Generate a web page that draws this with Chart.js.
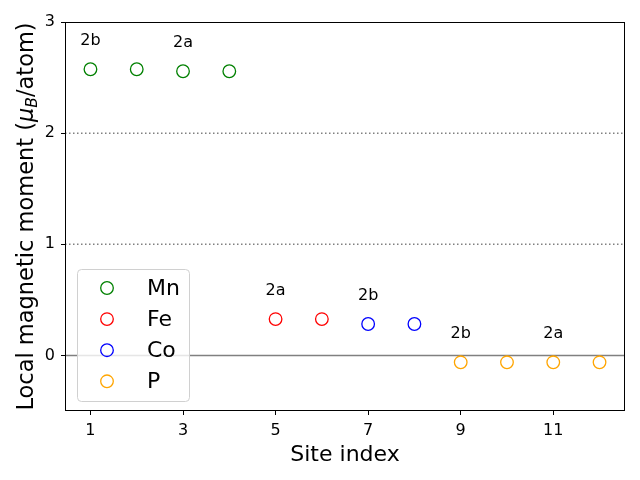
<!DOCTYPE html>
<html lang="en">
<head>
  <meta charset="UTF-8">
  <title>Local magnetic moment per site</title>
  <script src="https://cdn.jsdelivr.net/npm/chart.js"></script>
  <style>
    body { margin: 0; background: #fff; }
    .chart-container { width: 640px; height: 480px; }
  </style>
</head>
<body>

<div class="chart-container">
  <canvas id="momentChart" width="640" height="480"></canvas>
</div>

<script>
  // Data
  const mnSites = [1, 2, 3, 4];
  const mnMoments = [2.575, 2.575, 2.557, 2.557];
  const feSites = [5, 6];
  const feMoments = [0.327, 0.327];
  const coSites = [7, 8];
  const coMoments = [0.283, 0.283];
  const pSites = [9, 10, 11, 12];
  const pMoments = [-0.062, -0.062, -0.062, -0.062];

  const xTicks = [1, 3, 5, 7, 9, 11];
  const yTicks = [0, 1, 2, 3];

  // Wyckoff labels
  const labelSites = [1, 3, 5, 7, 9, 11];
  const labelY = [2.83, 2.81, 0.58, 0.54, 0.19, 0.19];
  const labelText = ['2b', '2a', '2a', '2b', '2b', '2a'];

  const dottedLevels = [1, 2];
  const solidLevels = [0];

  const FONT = "'DejaVu Sans', sans-serif";

  function toPoints(xs, ys) {
    return xs.map((x, i) => ({ x: x, y: ys[i] }));
  }

  function series(label, xs, ys, color) {
    return {
      label: label,
      data: toPoints(xs, ys),
      borderColor: color,
      backgroundColor: 'rgba(0,0,0,0)',
      pointStyle: 'circle',
      pointRadius: 6.3,
      pointHoverRadius: 6.3,
      borderWidth: 1.3,
      pointBorderWidth: 1.3
    };
  }

  const datasets = [
    series('Mn', mnSites, mnMoments, '#008000'),
    series('Fe', feSites, feMoments, '#ff0000'),
    series('Co', coSites, coMoments, '#0000ff'),
    series('P', pSites, pMoments, '#ffa500')
  ];

  // reference lines under the markers
  const refLines = {
    id: 'refLines',
    beforeDatasetsDraw(chart) {
      const { ctx, chartArea, scales } = chart;
      ctx.save();
      ctx.strokeStyle = '#808080';
      ctx.lineWidth = 1.5;
      ctx.setLineDash([1.5, 2.5]);
      dottedLevels.forEach(v => {
        const y = scales.y.getPixelForValue(v);
        ctx.beginPath();
        ctx.moveTo(chartArea.left, y);
        ctx.lineTo(chartArea.right, y);
        ctx.stroke();
      });
      ctx.setLineDash([]);
      ctx.lineWidth = 1.6;
      solidLevels.forEach(v => {
        const y = scales.y.getPixelForValue(v);
        ctx.beginPath();
        ctx.moveTo(chartArea.left, y);
        ctx.lineTo(chartArea.right, y);
        ctx.stroke();
      });
      ctx.restore();
    }
  };

  // site labels, frame, legend and y title
  const decorations = {
    id: 'decorations',
    afterDatasetsDraw(chart) {
      const { ctx, scales } = chart;
      ctx.save();
      ctx.fillStyle = '#000';
      ctx.font = '16px ' + FONT;
      ctx.textAlign = 'center';
      ctx.textBaseline = 'middle';
      labelSites.forEach((s, i) => {
        ctx.fillText(labelText[i], scales.x.getPixelForValue(s), scales.y.getPixelForValue(labelY[i]));
      });
      ctx.restore();
    },
    afterDraw(chart) {
      const { ctx, chartArea } = chart;
      ctx.save();
      // frame
      ctx.strokeStyle = '#000';
      ctx.lineWidth = 1;
      ctx.strokeRect(Math.round(chartArea.left) + 0.5, Math.round(chartArea.top) + 0.5,
        Math.round(chartArea.right - chartArea.left) - 1, Math.round(chartArea.bottom - chartArea.top) - 1);

      // legend box inside the axes
      const bx = 77, by = 269, bw = 112, bh = 132, r = 4;
      ctx.beginPath();
      ctx.roundRect(bx + 0.5, by + 0.5, bw, bh, r);
      ctx.fillStyle = 'rgba(255,255,255,0.8)';
      ctx.fill();
      ctx.strokeStyle = '#d0d0d0';
      ctx.lineWidth = 1;
      ctx.stroke();
      ctx.font = '22px ' + FONT;
      ctx.textAlign = 'left';
      ctx.textBaseline = 'middle';
      datasets.forEach((d, i) => {
        const cy = 288 + i * 31.1;
        ctx.beginPath();
        ctx.arc(107, cy, 6.3, 0, Math.PI * 2);
        ctx.strokeStyle = d.borderColor;
        ctx.lineWidth = 1.3;
        ctx.stroke();
        ctx.fillStyle = '#000';
        ctx.fillText(d.label, 147, cy + 1);
      });

      // y title with mu_B
      ctx.translate(33, (chartArea.top + chartArea.bottom) / 2);
      ctx.rotate(-Math.PI / 2);
      ctx.textBaseline = 'alphabetic';
      ctx.fillStyle = '#000';
      const parts = [
        { t: 'Local magnetic moment (', f: '22.5px ' + FONT, dy: 0 },
        { t: 'μ', f: 'italic 22.5px ' + FONT, dy: 0 },
        { t: 'B', f: 'italic 15.5px ' + FONT, dy: 4 },
        { t: '/atom)', f: '22.5px ' + FONT, dy: 0 }
      ];
      let total = 0;
      parts.forEach(p => { ctx.font = p.f; p.w = ctx.measureText(p.t).width; total += p.w; });
      let x = -total / 2;
      parts.forEach(p => {
        ctx.font = p.f;
        ctx.fillText(p.t, x, p.dy);
        x += p.w;
      });
      ctx.restore();
    }
  };

  const ctx = document.getElementById('momentChart').getContext('2d');
  new Chart(ctx, {
    type: 'scatter',
    data: { datasets: datasets },
    options: {
      responsive: false,
      animation: false,
      layout: { padding: { left: 0, top: 22, right: 15, bottom: 0 } },
      plugins: {
        legend: { display: false },
        tooltip: { enabled: false }
      },
      scales: {
        x: {
          type: 'linear',
          min: 0.45,
          max: 12.55,
          afterBuildTicks: s => { s.ticks = xTicks.map(v => ({ value: v })); },
          afterFit: s => { s.height = 69; },
          grid: { drawOnChartArea: false, color: '#000', tickLength: 4, tickWidth: 1 },
          border: { display: false },
          ticks: { color: '#000', padding: 6, font: { family: FONT, size: 16 }, maxRotation: 0 },
          title: {
            display: true,
            text: 'Site index',
            color: '#000',
            font: { family: FONT, size: 22 },
            padding: { top: 0, bottom: 12 }
          }
        },
        y: {
          min: -0.5,
          max: 3,
          afterBuildTicks: s => { s.ticks = yTicks.map(v => ({ value: v })); },
          afterFit: s => { s.width = 65; },
          grid: { drawOnChartArea: false, color: '#000', tickLength: 4, tickWidth: 1 },
          border: { display: false },
          ticks: { color: '#000', padding: 6, font: { family: FONT, size: 16 } }
        }
      }
    },
    plugins: [refLines, decorations]
  });
</script>

</body>
</html>
